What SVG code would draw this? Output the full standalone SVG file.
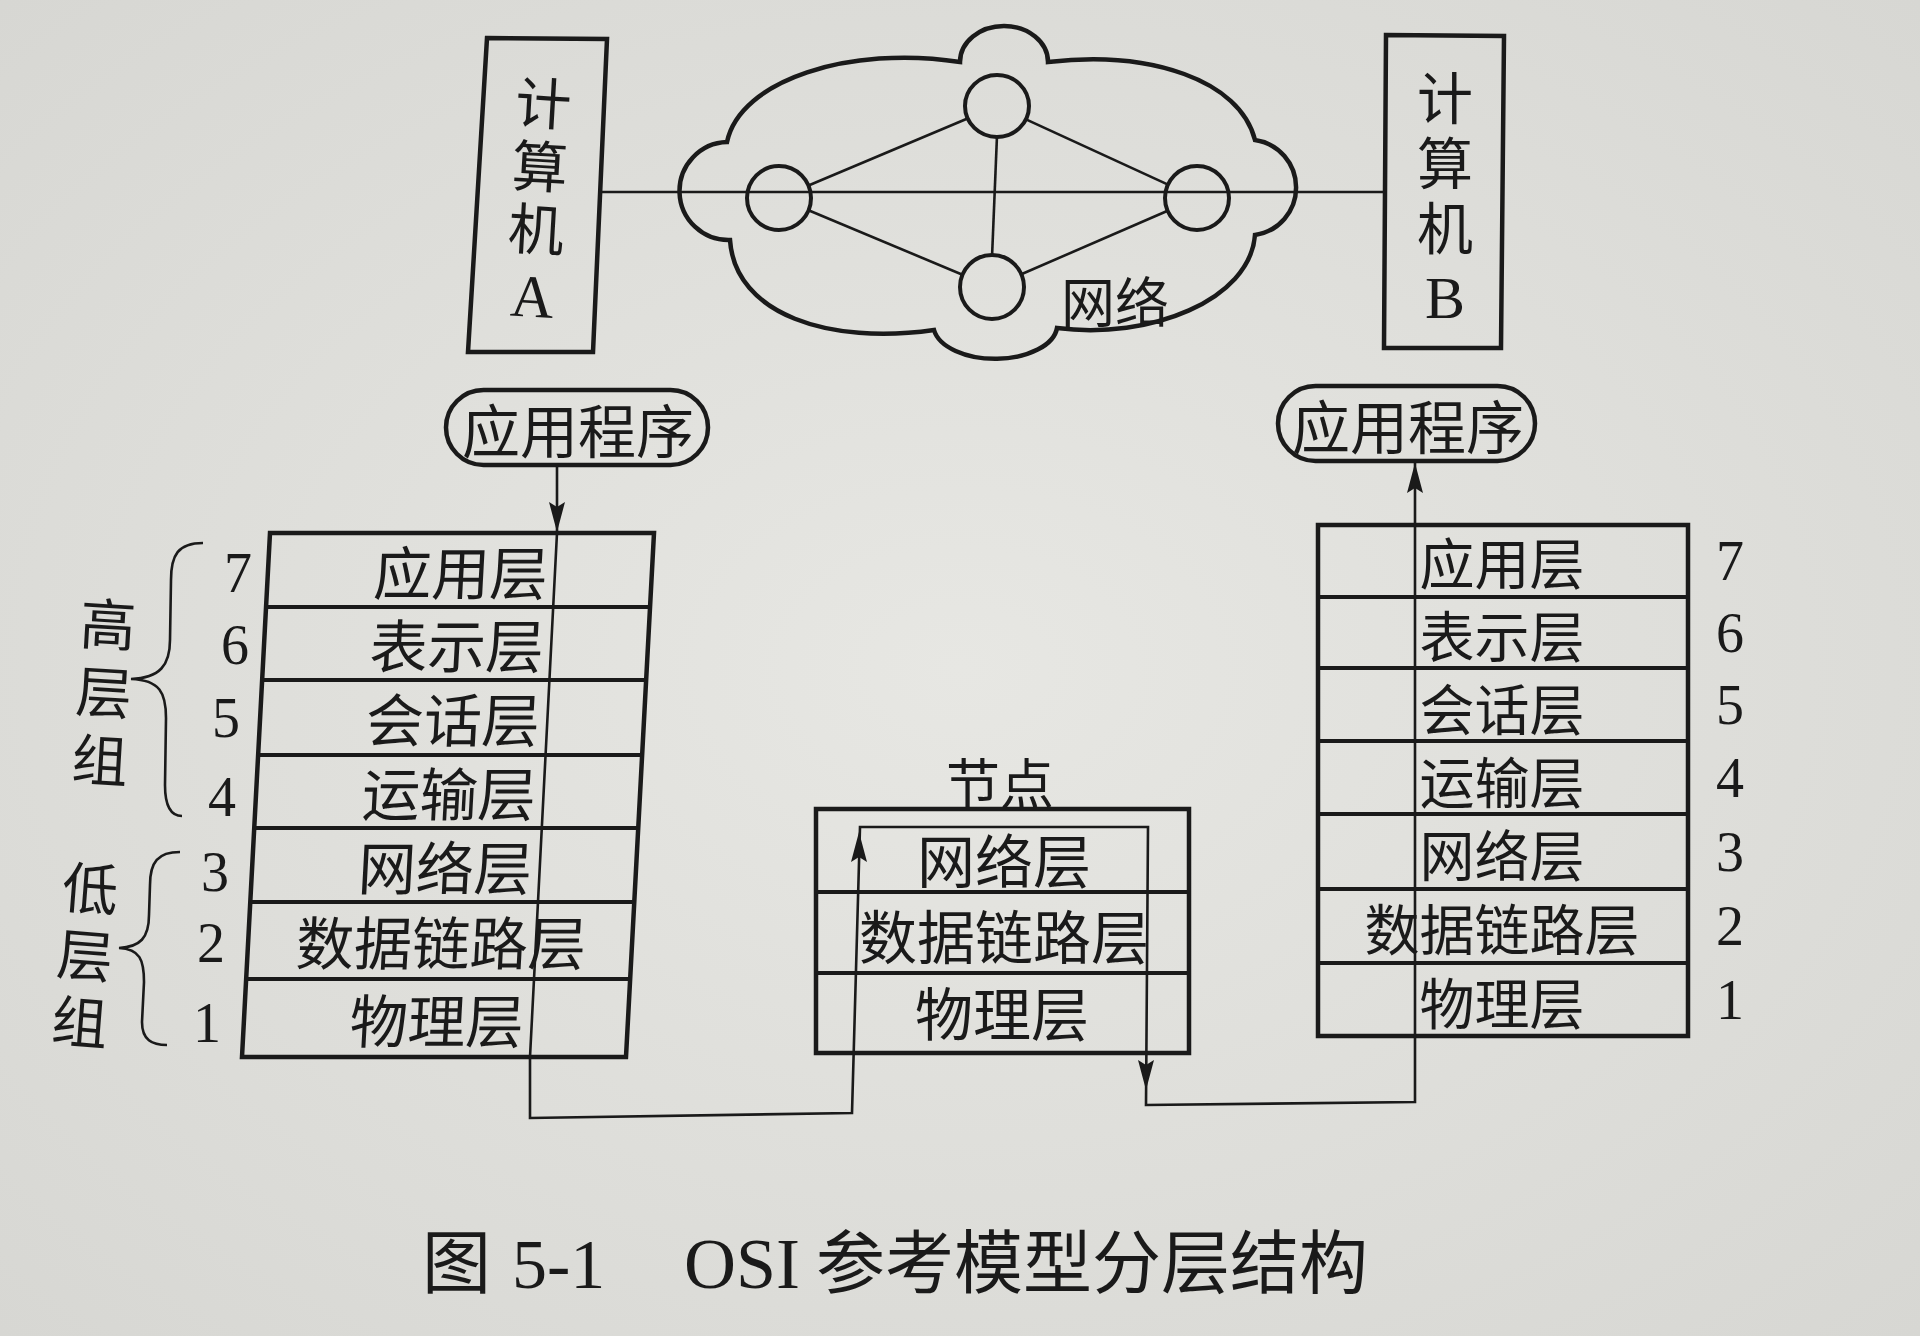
<svg xmlns="http://www.w3.org/2000/svg" xmlns:xlink="http://www.w3.org/1999/xlink" width="1920" height="1336" viewBox="0 0 1920 1336">
<defs>
<radialGradient id="paper" cx="0.5" cy="0.5" r="0.75">
<stop offset="0" stop-color="#e7e7e3"/>
<stop offset="1" stop-color="#d6d6d2"/>
</radialGradient>
<path id="ah" d="M0,0 L-8,-30 L0,-25 L8,-30 Z" fill="#1a1a1a"/>
<style>
.box{fill:none;stroke:#1a1a1a;stroke-width:4.5;stroke-linejoin:miter}
.row{fill:none;stroke:#1a1a1a;stroke-width:4}
.thin{fill:none;stroke:#1a1a1a;stroke-width:2.6}
.cjk{font-family:"Noto Sans CJK SC","Noto Sans CJK TC",sans-serif;fill:#1a1a1a;text-anchor:middle;dominant-baseline:central}
.vert{font-family:"Noto Sans CJK SC","Noto Sans CJK TC",sans-serif;fill:#1a1a1a;writing-mode:vertical-rl;text-orientation:upright;text-anchor:start}
.lay{font-size:58px}
.layb{font-size:55px}
.num{font-family:"Liberation Serif","DejaVu Serif",serif;font-size:56px;fill:#1a1a1a;text-anchor:middle;dominant-baseline:central}
.lat{font-family:"Liberation Serif","DejaVu Serif",serif}
.cap{font-family:"Liberation Serif","Noto Sans CJK SC",serif;fill:#1a1a1a}
</style>
</defs>
<rect width="1920" height="1336" fill="url(#paper)"/>

<g id="computer-a">
<polygon class="box" points="487,38 607,39 593,352 468,352"/>
<text class="vert" font-size="56" letter-spacing="7" x="538" y="75" transform="rotate(3.3,538,198)">计算机<tspan class="lat" font-size="60">A</tspan></text>
</g>

<g id="computer-b">
<polygon class="box" points="1386,35 1504,36 1501,348 1384,348"/>
<text class="vert" font-size="56" letter-spacing="9" x="1445" y="70">计算机<tspan class="lat" font-size="60">B</tspan></text>
</g>

<g id="network">
<path class="box" d="M727,142 C740,80 850,45 960,62 A44,36 0 0 1 1048,62 C1150,50 1240,80 1255,140 A48,48 0 0 1 1255,235 C1250,300 1150,340 1057,328 A62,34 0 0 1 934,330 C830,345 735,315 730,240 A49,49 0 0 1 727,142 Z"/>
<ellipse class="row" cx="779" cy="198" rx="32" ry="32"/>
<ellipse class="row" cx="997" cy="106" rx="32" ry="31"/>
<ellipse class="row" cx="1197" cy="198" rx="32" ry="32"/>
<ellipse class="row" cx="992" cy="287" rx="32" ry="32"/>
<line class="thin" x1="808.5" y1="185.5" x2="967.5" y2="118.5"/>
<line class="thin" x1="1026" y1="119.4" x2="1168" y2="184.6"/>
<line class="thin" x1="808.5" y1="210.3" x2="962.5" y2="274.7"/>
<line class="thin" x1="1021.3" y1="274.3" x2="1167.7" y2="210.7"/>
<line class="thin" x1="996.9" y1="138" x2="992.1" y2="255"/>
<text class="cjk" font-size="54" x="1115" y="299">网络</text>
</g>

<g id="app-a">
<rect class="box" x="446" y="390" width="262" height="75" rx="37.5"/>
<text class="cjk" font-size="58" x="578" y="428">应用程序</text>
</g>

<g id="app-b">
<rect class="box" x="1278" y="386" width="257" height="75" rx="37.5"/>
<text class="cjk" font-size="58" x="1408" y="424">应用程序</text>
</g>

<g id="stack-a" transform="translate(270,533) skewX(-3.06)">
<rect class="box" x="0" y="0" width="384" height="524"/>
<line class="row" x1="0" y1="74" x2="384" y2="74"/>
<line class="row" x1="0" y1="147" x2="384" y2="147"/>
<line class="row" x1="0" y1="222" x2="384" y2="222"/>
<line class="row" x1="0" y1="295" x2="384" y2="295"/>
<line class="row" x1="0" y1="369" x2="384" y2="369"/>
<line class="row" x1="0" y1="446" x2="384" y2="446"/>
<text class="cjk lay" x="193" y="37">应用层</text>
<text class="cjk lay" x="193" y="110">表示层</text>
<text class="cjk lay" x="193" y="184">会话层</text>
<text class="cjk lay" x="193" y="258">运输层</text>
<text class="cjk lay" x="193" y="332">网络层</text>
<text class="cjk lay" x="193" y="407">数据链路层</text>
<text class="cjk lay" x="193" y="485">物理层</text>
</g>

<g id="stack-a-numbers">
<text class="num" x="238" y="573">7</text>
<text class="num" x="235" y="645">6</text>
<text class="num" x="226" y="718">5</text>
<text class="num" x="222" y="797">4</text>
<text class="num" x="215" y="872">3</text>
<text class="num" x="211" y="943">2</text>
<text class="num" x="207" y="1023">1</text>
</g>

<g id="group-high">
<path class="thin" d="M203,543 C178,543 171,555 171,580 L170,640 C170,665 160,678 131,679 C160,680 166,693 166,718 L165,785 C165,808 172,816 182,816"/>
<text class="vert" font-size="56" letter-spacing="12" x="104" y="596" transform="rotate(3.4,104,692)">高层组</text>
</g>

<g id="group-low">
<path class="thin" d="M180,852 C158,852 150,862 150,885 L149,915 C149,938 140,947 119,948 C140,949 144,960 144,982 L142,1022 C142,1040 152,1045 167,1045"/>
<text class="vert" font-size="56" letter-spacing="11" x="85" y="860" transform="rotate(4.5,85,955)">低层组</text>
</g>

<g id="relay-node">
<text class="cjk" font-size="54" x="1000" y="780">节点</text>
<rect class="box" x="816" y="809" width="373" height="244"/>
<line class="row" x1="816" y1="892" x2="1189" y2="892"/>
<line class="row" x1="816" y1="973" x2="1189" y2="973"/>
<text class="cjk lay" x="1004" y="858">网络层</text>
<text class="cjk lay" x="1004" y="934">数据链路层</text>
<text class="cjk lay" x="1002" y="1011">物理层</text>
</g>

<g id="stack-b">
<rect class="box" x="1318" y="525" width="370" height="511"/>
<line class="row" x1="1318" y1="597" x2="1688" y2="597"/>
<line class="row" x1="1318" y1="668" x2="1688" y2="668"/>
<line class="row" x1="1318" y1="741" x2="1688" y2="741"/>
<line class="row" x1="1318" y1="814" x2="1688" y2="814"/>
<line class="row" x1="1318" y1="889" x2="1688" y2="889"/>
<line class="row" x1="1318" y1="963" x2="1688" y2="963"/>
<text class="cjk layb" x="1502" y="560">应用层</text>
<text class="cjk layb" x="1502" y="633">表示层</text>
<text class="cjk layb" x="1502" y="706">会话层</text>
<text class="cjk layb" x="1502" y="779">运输层</text>
<text class="cjk layb" x="1502" y="852">网络层</text>
<text class="cjk layb" x="1502" y="926">数据链路层</text>
<text class="cjk layb" x="1502" y="1000">物理层</text>
<text class="num" x="1730" y="561">7</text>
<text class="num" x="1730" y="633">6</text>
<text class="num" x="1730" y="705">5</text>
<text class="num" x="1730" y="778">4</text>
<text class="num" x="1730" y="852">3</text>
<text class="num" x="1730" y="926">2</text>
<text class="num" x="1730" y="1000">1</text>
</g>

<g id="connectors">
<line class="thin" x1="600" y1="192" x2="1385" y2="192"/>
<path class="thin" d="M557,465 L557,533 L530,1057 L530,1118 L852,1113 L860,827 L1148,827 L1146,1105 L1415,1102 L1415,463"/>
<use xlink:href="#ah" transform="translate(557,532)"/>
<use xlink:href="#ah" transform="translate(859,832) rotate(180)"/>
<use xlink:href="#ah" transform="translate(1146,1090)"/>
<use xlink:href="#ah" transform="translate(1415,463) rotate(180)"/>
</g>

<g id="caption">
<text class="cap" y="1288"><tspan x="422" font-size="69">图</tspan><tspan x="512" font-size="70">5-1</tspan><tspan x="684" font-size="72">OSI</tspan><tspan x="816" font-size="69">参考模型分层结构</tspan></text>
</g>
</svg>
